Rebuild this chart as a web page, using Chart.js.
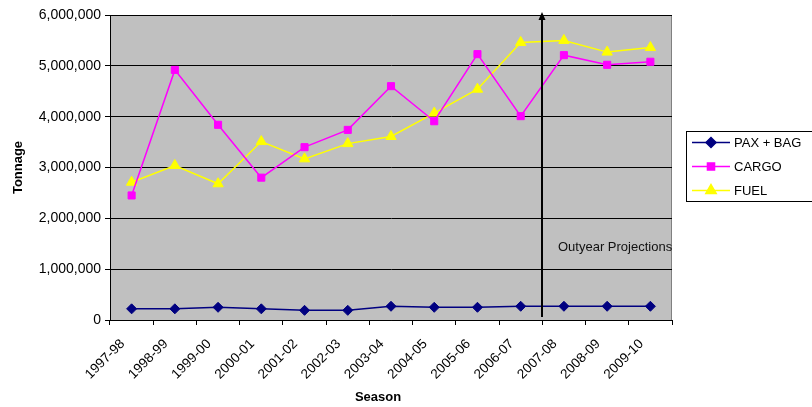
<!DOCTYPE html>
<html>
<head>
<meta charset="utf-8">
<script src="https://cdn.jsdelivr.net/npm/chart.js@4.4.1/dist/chart.umd.min.js"></script>
<style>
  html, body { margin: 0; padding: 0; background: #fff; }
  #wrap { width: 812px; height: 407px; position: relative; }
</style>
</head>
<body>
<div id="wrap"><canvas id="tonnageChart"></canvas></div>
<script>
// Seasons and tonnage per category
const seasons = ['1997-98', '1998-99', '1999-00', '2000-01', '2001-02', '2002-03', '2003-04',
                 '2004-05', '2005-06', '2006-07', '2007-08', '2008-09', '2009-10'];

const paxBag = [220000, 220000, 250000, 220000, 190000, 190000, 270000,
                250000, 250000, 270000, 270000, 270000, 270000];

const cargo = [2450000, 4920000, 3840000, 2800000, 3400000, 3740000, 4600000,
               3910000, 5230000, 4010000, 5210000, 5020000, 5080000];

const fuel = [2710000, 3040000, 2680000, 3510000, 3170000, 3470000, 3610000,
              4070000, 4540000, 5460000, 5500000, 5270000, 5360000];

const yTicks = [0, 1000000, 2000000, 3000000, 4000000, 5000000, 6000000];

// first projected season, the arrow sits on its left boundary
const projectionStart = '2007-08';
const projectionLabel = 'Outyear Projections';
const xTitle = 'Season';

const FONT = 'Arial, "Liberation Sans", sans-serif';

const series = [
    { label: 'PAX + BAG', data: paxBag, color: '#000080', style: 'rectRot', radius: 5 },
    { label: 'CARGO', data: cargo, color: '#FF00FF', style: 'rect', radius: 5 },
    { label: 'FUEL', data: fuel, color: '#FFFF00', style: 'triangle', radius: 6 }
];

// grey plot background, outline, projection arrow, axis title and boxed legend
const decorPlugin = {
    id: 'decor',
    beforeDraw(chart) {
        const { ctx, chartArea: a } = chart;
        ctx.save();
        ctx.fillStyle = '#C0C0C0';
        ctx.fillRect(a.left, a.top, a.right - a.left, a.bottom - a.top);
        ctx.strokeStyle = '#808080';
        ctx.lineWidth = 1;
        ctx.strokeRect(a.left + 0.5, a.top + 0.5, a.right - a.left - 1, a.bottom - a.top);
        ctx.restore();
    },
    afterDraw(chart) {
        const { ctx, chartArea: a, scales } = chart;
        const idx = seasons.indexOf(projectionStart);
        const x = Math.round((scales.x.getPixelForValue(idx - 1) + scales.x.getPixelForValue(idx)) / 2);

        ctx.save();
        ctx.strokeStyle = '#000';
        ctx.fillStyle = '#000';
        ctx.lineWidth = 2;
        ctx.beginPath();
        ctx.moveTo(x, a.bottom - 3);
        ctx.lineTo(x, a.top + 2);
        ctx.stroke();
        ctx.beginPath();
        ctx.moveTo(x, a.top - 3);
        ctx.lineTo(x - 3.5, a.top + 5);
        ctx.lineTo(x + 3.5, a.top + 5);
        ctx.closePath();
        ctx.fill();

        ctx.font = '13px ' + FONT;
        ctx.fillStyle = '#111';
        ctx.textBaseline = 'middle';
        ctx.textAlign = 'left';
        ctx.fillText(projectionLabel, x + 16, scales.y.getPixelForValue(1420000));

        // x axis title, sits a little left of the plot centre
        ctx.font = 'bold 13px ' + FONT;
        ctx.fillStyle = '#000';
        ctx.textAlign = 'center';
        ctx.fillText(xTitle, 378, 397);

        // legend box
        const bx = 686.5, by = 131.5, bw = 130, bh = 70;
        ctx.fillStyle = '#fff';
        ctx.fillRect(bx, by, bw, bh);
        ctx.strokeStyle = '#000';
        ctx.lineWidth = 1;
        ctx.strokeRect(bx, by, bw, bh);
        series.forEach((s, i) => {
            const y = by + 11 + i * 24;
            ctx.strokeStyle = s.color;
            ctx.lineWidth = 1.5;
            ctx.beginPath();
            ctx.moveTo(692, y);
            ctx.lineTo(730, y);
            ctx.stroke();
            ctx.fillStyle = s.color;
            Chart.helpers.drawPoint(ctx, {
                pointStyle: s.style, radius: s.radius, rotation: 0, borderWidth: 1
            }, 711, y);
            ctx.fillStyle = '#000';
            ctx.font = '13px ' + FONT;
            ctx.textAlign = 'left';
            ctx.textBaseline = 'middle';
            ctx.fillText(s.label, 734, y + 1);
        });
        ctx.restore();
    }
};

new Chart(document.getElementById('tonnageChart'), {
    type: 'line',
    data: {
        labels: seasons,
        datasets: series.map(s => ({
            label: s.label,
            data: s.data,
            borderColor: s.color,
            backgroundColor: s.color,
            borderWidth: 1.5,
            pointStyle: s.style,
            pointRadius: s.radius,
            pointHoverRadius: s.radius,
            pointBorderWidth: 1,
            tension: 0,
            fill: false
        }))
    },
    options: {
        responsive: true,
        maintainAspectRatio: false,
        animation: false,
        layout: { padding: { top: 15, right: 140, bottom: 0, left: 0 } },
        plugins: {
            legend: { display: false },
            tooltip: { enabled: false }
        },
        scales: {
            x: {
                offset: true,
                grid: {
                    offset: true,
                    drawOnChartArea: false,
                    color: '#000',
                    tickLength: 5
                },
                border: { color: '#000', width: 1 },
                ticks: {
                    minRotation: 45,
                    maxRotation: 45,
                    autoSkip: false,
                    color: '#000',
                    padding: 11,
                    labelOffset: -9,
                    font: { family: FONT, size: 13.5 }
                },
                afterFit(scale) { scale.height = 87; }
            },
            y: {
                min: 0,
                max: 6000000,
                afterBuildTicks(scale) {
                    scale.ticks = yTicks.map(v => ({ value: v }));
                },
                grid: {
                    color: '#000',
                    lineWidth: 1,
                    tickLength: 5
                },
                border: { color: '#000', width: 1 },
                ticks: {
                    color: '#000',
                    padding: 4,
                    font: { family: FONT, size: 14 },
                    callback: v => v.toLocaleString('en-US')
                },
                title: {
                    display: true,
                    text: 'Tonnage',
                    color: '#000',
                    font: { family: FONT, size: 13, weight: 'bold' },
                    padding: { top: 11, bottom: 0 }
                },
                afterFit(scale) { scale.width = 110; }
            }
        }
    },
    plugins: [decorPlugin]
});
</script>
</body>
</html>
